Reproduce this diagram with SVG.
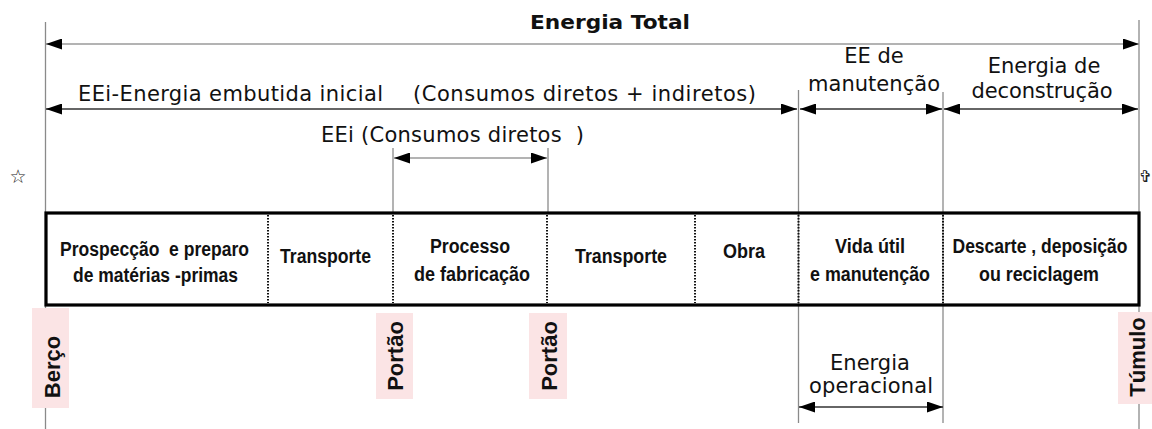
<svg xmlns="http://www.w3.org/2000/svg" width="1152" height="429" viewBox="0 0 1152 429">
<style>
.lbl{font-family:"DejaVu Sans",Verdana,sans-serif;font-size:21px;fill:#111}
.ttl{font-family:"DejaVu Sans",Verdana,sans-serif;font-size:19px;font-weight:bold;fill:#111}
.cell{font-family:"Liberation Sans",Arial,sans-serif;font-size:20px;font-weight:bold;fill:#111;text-anchor:middle}
.rot{font-family:"Liberation Sans",Arial,sans-serif;font-size:22px;font-weight:bold;fill:#111;text-anchor:middle}
.c{text-anchor:middle}
.vl{stroke:#8a8a8a;stroke-width:1.3;fill:none}
.ag{stroke:#9a9a9a;stroke-width:1.5;fill:none}
.ad{stroke:#333;stroke-width:1.5;fill:none}
.dot{stroke:#111;stroke-width:2;stroke-dasharray:1.5 1.5;fill:none}
.pink{fill:#fbe4e5}
</style>
<defs>
<marker id="ah" viewBox="0 0 16 11" refX="16" refY="5.5" markerWidth="16" markerHeight="11" markerUnits="userSpaceOnUse" orient="auto-start-reverse">
<path d="M0,0 L16,5.5 L0,11 Z" fill="#000"/>
</marker>
</defs>
<rect width="1152" height="429" fill="#fff"/>

<g id="pink-labels-bg">
<rect class="pink" x="32" y="308" width="37" height="100"/>
<rect class="pink" x="376" y="313" width="37" height="86"/>
<rect class="pink" x="529" y="313" width="38" height="86"/>
<rect class="pink" x="1118" y="312" width="34" height="92"/>
</g>

<g id="connectors">
<line class="vl" x1="45.5" y1="22" x2="45.5" y2="308"/>
<line class="vl" x1="45.5" y1="408" x2="45.5" y2="429"/>
<line class="vl" x1="1139" y1="20" x2="1139" y2="312"/>
<line class="vl" x1="1139" y1="404" x2="1139" y2="429"/>
<line class="vl" x1="798.5" y1="90" x2="798.5" y2="423"/>
<line class="vl" x1="943" y1="92" x2="943" y2="423"/>
<line class="vl" x1="393" y1="148" x2="393" y2="213"/>
<line class="vl" x1="548" y1="148" x2="548" y2="213"/>
<line class="ag" x1="46" y1="44" x2="1139" y2="44" marker-start="url(#ah)" marker-end="url(#ah)"/>
<line class="ad" x1="46" y1="109" x2="797" y2="109" marker-start="url(#ah)" marker-end="url(#ah)"/>
<line class="ad" x1="800" y1="109" x2="942" y2="109" marker-start="url(#ah)" marker-end="url(#ah)"/>
<line class="ad" x1="944" y1="109" x2="1138" y2="109" marker-start="url(#ah)" marker-end="url(#ah)"/>
<line class="ag" x1="394" y1="158" x2="547" y2="158" marker-start="url(#ah)" marker-end="url(#ah)"/>
<line class="ad" x1="799" y1="407" x2="943" y2="407" marker-start="url(#ah)" marker-end="url(#ah)"/>
</g>

<g id="top-labels">
<text class="ttl" x="610" y="29" text-anchor="middle" textLength="160" lengthAdjust="spacingAndGlyphs">Energia Total</text>
<text class="lbl" x="78" y="101" textLength="305" lengthAdjust="spacing">EEi-Energia embutida inicial</text>
<text class="lbl" x="413" y="101" textLength="343" lengthAdjust="spacing">(Consumos diretos + indiretos)</text>
<text class="lbl" x="321" y="142" textLength="263" lengthAdjust="spacing">EEi (Consumos diretos&#160; )</text>
<text class="lbl c" x="874" y="63">EE de</text>
<text class="lbl c" x="874" y="91" textLength="132" lengthAdjust="spacing">manutenção</text>
<text class="lbl c" x="1044" y="73">Energia de</text>
<text class="lbl c" x="1042" y="98" textLength="141" lengthAdjust="spacing">deconstrução</text>
<text class="lbl c" x="870" y="370">Energia</text>
<text class="lbl c" x="871" y="393" textLength="124" lengthAdjust="spacing">operacional</text>
<text x="18" y="183" font-family="DejaVu Sans,sans-serif" font-size="19" text-anchor="middle" fill="#222">☆</text>
<text x="1145.5" y="182" font-family="DejaVu Sans,sans-serif" font-size="16" text-anchor="middle" fill="#222">✞</text>
</g>

<g id="stages-box">
<rect x="46" y="213" width="1093" height="92" fill="none" stroke="#000" stroke-width="3.2"/>
<line class="dot" x1="268" y1="215" x2="268" y2="303"/>
<line class="dot" x1="393" y1="215" x2="393" y2="303"/>
<line class="dot" x1="547" y1="215" x2="547" y2="303"/>
<line class="dot" x1="695" y1="215" x2="695" y2="303"/>
<line class="dot" x1="798.5" y1="215" x2="798.5" y2="303"/>
<line class="dot" x1="943" y1="215" x2="943" y2="303"/>
</g>

<g id="stage-prospeccao">
<text class="cell" x="154.5" y="256" textLength="189" lengthAdjust="spacingAndGlyphs">Prospecção&#160; e preparo</text>
<text class="cell" x="155.5" y="282" textLength="165" lengthAdjust="spacingAndGlyphs">de matérias -primas</text>
</g>
<g id="stage-transporte1">
<text class="cell" x="325.5" y="263" font-size="21" textLength="91" lengthAdjust="spacingAndGlyphs">Transporte</text>
</g>
<g id="stage-processo">
<text class="cell" x="470" y="253" textLength="80" lengthAdjust="spacingAndGlyphs">Processo</text>
<text class="cell" x="472" y="281" textLength="116" lengthAdjust="spacingAndGlyphs">de fabricação</text>
</g>
<g id="stage-transporte2">
<text class="cell" x="621" y="263" font-size="21" textLength="92" lengthAdjust="spacingAndGlyphs">Transporte</text>
</g>
<g id="stage-obra">
<text class="cell" x="744" y="258" textLength="42" lengthAdjust="spacingAndGlyphs">Obra</text>
</g>
<g id="stage-vida-util">
<text class="cell" x="870" y="253" textLength="70" lengthAdjust="spacingAndGlyphs">Vida útil</text>
<text class="cell" x="870" y="281" textLength="120" lengthAdjust="spacingAndGlyphs">e manutenção</text>
</g>
<g id="stage-descarte">
<text class="cell" x="1040" y="253" textLength="175" lengthAdjust="spacingAndGlyphs">Descarte , deposição</text>
<text class="cell" x="1039" y="281" textLength="120" lengthAdjust="spacingAndGlyphs">ou reciclagem</text>
</g>

<g id="label-berco">
<text class="rot" transform="translate(60,367) rotate(-90)">Berço</text>
</g>
<g id="label-portao1">
<text class="rot" transform="translate(403,356) rotate(-90)">Portão</text>
</g>
<g id="label-portao2">
<text class="rot" transform="translate(557,356) rotate(-90)">Portão</text>
</g>
<g id="label-tumulo">
<text class="rot" transform="translate(1145,357) rotate(-90)">Túmulo</text>
</g>
</svg>
